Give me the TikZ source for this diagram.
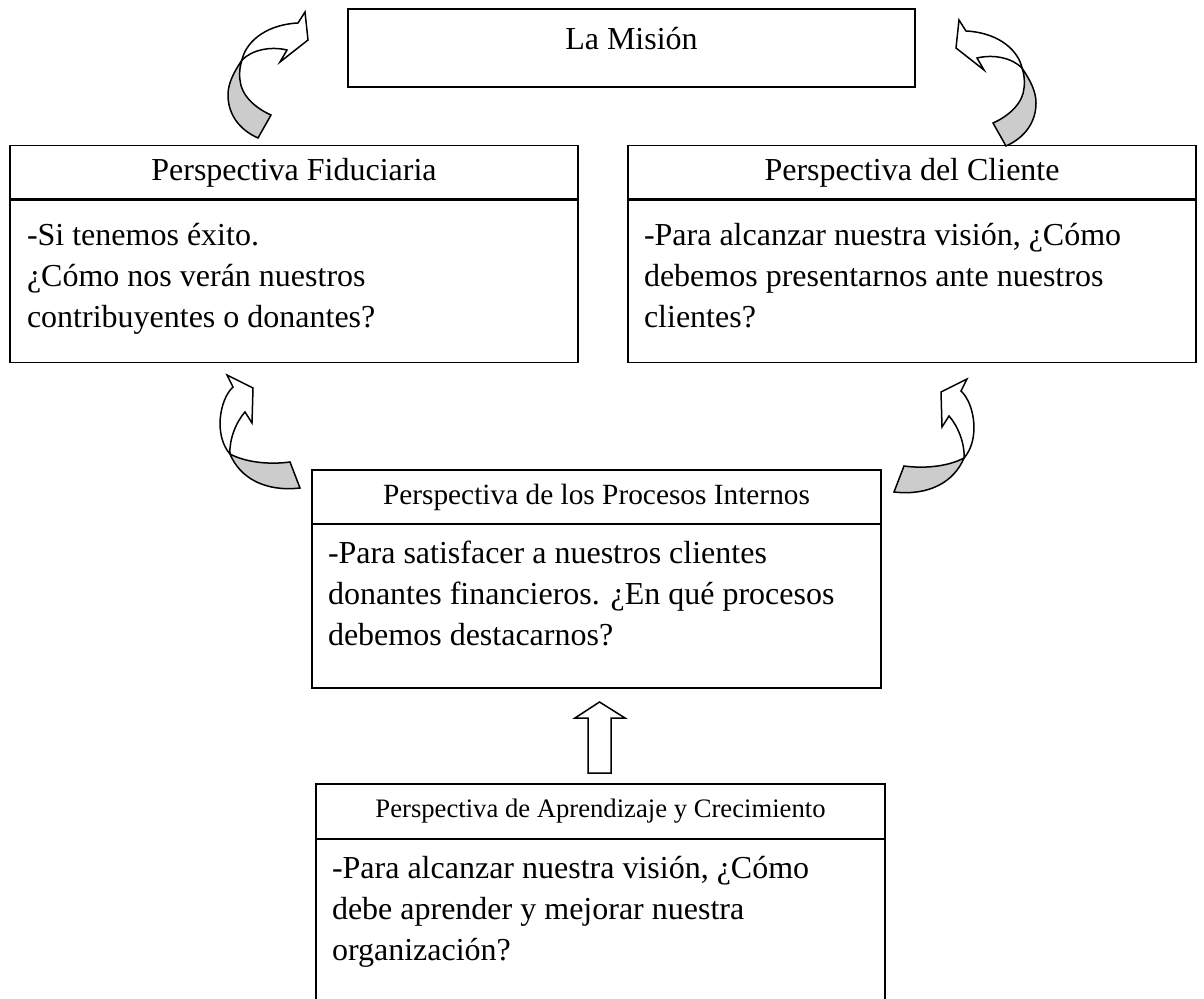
\documentclass[tikz,border=0pt]{standalone}
\usepackage{fontspec}
\setmainfont{Liberation Serif}
\usetikzlibrary{positioning}

\definecolor{backgray}{RGB}{204,204,204}

\tikzset{every node/.style={outer sep=0pt}}
\tikzset{
  box/.style={draw, line width=0.9pt, inner sep=0pt, minimum width=284pt},
  titlebox/.style={box, minimum height=27pt, font=\fontsize{16}{21}\selectfont},
  bodytext/.style={inner sep=0pt, align=left, font=\fontsize{16}{20.5}\selectfont},
  divider/.style={line width=1.4pt},
  arrfront/.style={draw, line width=0.75pt, fill=white, line join=miter},
  arrback/.style={arrfront, fill=backgray},
}

\begin{document}
\begin{tikzpicture}[x=0.5pt, y=-0.5pt]
\useasboundingbox (0,0) rectangle (1204,999);

% la mision
\node[box, minimum width=283.5pt, minimum height=39pt] (mision) at (631.5,48) {};
\node[anchor=base, font=\fontsize{16}{21}\selectfont] (misionTx) at (631.5,50) {La Misión};

% fiduciaria y cliente
\node[titlebox] (fidT) at (294,172.5) {Perspectiva Fiduciaria};
\node[box, minimum height=81.5pt, below=0pt of fidT] (fidB) {};
\node[bodytext, below right=8.5pt and 8.5pt of fidB.north west] (fidTx)
  {\strut-Si tenemos éxito.\\ ¿Cómo nos verán nuestros\\ contribuyentes o donantes?};

\node[titlebox, right=25pt of fidT] (cliT) {Perspectiva del Cliente};
\node[box, minimum height=81.5pt, below=0pt of cliT] (cliB) {};
\node[bodytext, below right=8.5pt and 8pt of cliB.north west] (cliTx)
  {\strut-Para alcanzar nuestra visión, ¿Cómo\\ debemos presentarnos ante nuestros\\ clientes?};

% procesos internos
\node[titlebox, minimum width=284.5pt, font=\fontsize{14.67}{18}\selectfont] (proT) at (596.5,497) {Perspectiva de los Procesos Internos};
\node[box, minimum width=284.5pt, minimum height=82pt, below=0pt of proT] (proB) {};
\node[bodytext, below right=5.3pt and 8pt of proB.north west] (proTx)
  {\strut-Para satisfacer a nuestros clientes\\ donantes financieros. ¿En qué procesos\\ debemos destacarnos?};

% aprendizaje y crecimiento
\node[titlebox, minimum width=284.5pt, minimum height=27.5pt, font=\fontsize{13.33}{16}\selectfont] (aprT) at (600.5,811.5) {Perspectiva de Aprendizaje y Crecimiento};
\node[box, minimum width=284.5pt, minimum height=86pt, below=0pt of aprT] (aprB) {};
\node[bodytext, below right=5.3pt and 8pt of aprB.north west] (aprTx)
  {\strut-Para alcanzar nuestra visión, ¿Cómo\\ debe aprender y mejorar nuestra\\ organización?};

\foreach \t in {fidT,cliT,proT,aprT}
  \draw[divider] (\t.south west) -- (\t.south east);

% flecha hacia arriba
\draw[arrfront] (588,773) -- (588,718) -- (575,718) -- (599.5,702) -- (625,718)
  -- (611,718) -- (611,773) -- cycle;

% flechas curvas de arriba
\begin{scope}
  \draw[arrback] (242,60) .. controls (234,72) and (228,83) .. (228,95)
    .. controls (228,115) and (240,130) .. (258,138) -- (271,115)
    .. controls (255,108) and (241,95) .. (240,80)
    .. controls (239,72) and (240,66) .. (242,60) -- cycle;
  \draw[arrfront] (242,60) .. controls (245,45) and (262,25) .. (298,23)
    -- (305,12) -- (308,40) -- (280,62) -- (287,50)
    .. controls (270,46) and (252,50) .. (242,60) -- cycle;
\end{scope}
\begin{scope}[shift={(1264,8)}, xscale=-1]
  \draw[arrback] (242,60) .. controls (234,72) and (228,83) .. (228,95)
    .. controls (228,115) and (240,130) .. (258,138) -- (271,115)
    .. controls (255,108) and (241,95) .. (240,80)
    .. controls (239,72) and (240,66) .. (242,60) -- cycle;
  \draw[arrfront] (242,60) .. controls (245,45) and (262,25) .. (298,23)
    -- (305,12) -- (308,40) -- (280,62) -- (287,50)
    .. controls (270,46) and (252,50) .. (242,60) -- cycle;
\end{scope}

% flechas curvas del medio
\begin{scope}
  \draw[arrback] (230,454) .. controls (240,478) and (265,492) .. (300,488)
    -- (290,462) .. controls (268,465) and (245,462) .. (230,454) -- cycle;
  \draw[arrfront] (230,454) .. controls (214,436) and (219,400) .. (233,387)
    -- (227,375) -- (253,388) -- (252,423) -- (245,412)
    .. controls (236,422) and (229,440) .. (230,454) -- cycle;
\end{scope}
\begin{scope}[shift={(1194,4)}, xscale=-1]
  \draw[arrback] (230,454) .. controls (240,478) and (265,492) .. (300,488)
    -- (290,462) .. controls (268,465) and (245,462) .. (230,454) -- cycle;
  \draw[arrfront] (230,454) .. controls (214,436) and (219,400) .. (233,387)
    -- (227,375) -- (253,388) -- (252,423) -- (245,412)
    .. controls (236,422) and (229,440) .. (230,454) -- cycle;
\end{scope}
\end{tikzpicture}
\end{document}
